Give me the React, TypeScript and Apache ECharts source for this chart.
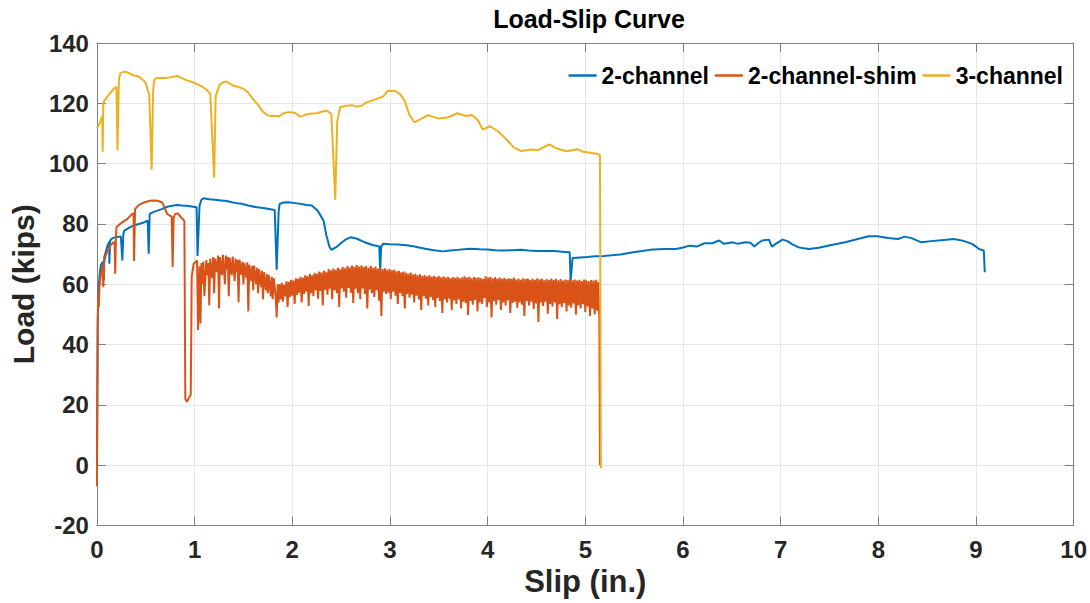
import React, { useEffect, useRef } from "react";
import * as echarts from "echarts";

const chartTitle = "Load-Slip Curve";
const xAxisName = "Slip (in.)";
const yAxisName = "Load (kips)";
const seriesNames = ["2-channel", "2-channel-shim", "3-channel"];
const seriesColors = ["#0072BD", "#D95319", "#EDB120"];

const xMin = 0, xMax = 10, xStep = 1;
const yMin = -20, yMax = 140, yStep = 20;

// 2-channel
const twoChannel: number[][] = [
  [0, 0], [0.004, 25], [0.008, 45], [0.012, 55], [0.02, 60], [0.03, 64], [0.04, 66.3], [0.06, 67.5], [0.07, 61.3], [0.075, 69],
  [0.09, 70.7], [0.11, 73], [0.125, 74], [0.127, 66.8], [0.135, 74.5], [0.16, 75.3], [0.19, 75.6], [0.245, 75.8], [0.26, 67.9], [0.27, 76.5],
  [0.28, 77.8], [0.33, 78.8], [0.38, 79.5], [0.43, 80], [0.48, 80.5], [0.52, 81.1], [0.53, 70.1], [0.54, 83.3], [0.58, 84], [0.62, 84.4],
  [0.67, 85], [0.72, 85.7], [0.77, 86], [0.82, 86.3], [0.87, 86.1], [0.92, 86], [0.97, 85.8], [1.02, 85.5], [1.03, 69.4], [1.05, 86],
  [1.07, 88], [1.09, 88.5], [1.15, 88.2], [1.21, 88], [1.27, 87.8], [1.33, 87.6], [1.38, 87.2], [1.43, 86.9], [1.47, 86.8], [1.55, 86.1],
  [1.64, 85.5], [1.72, 85.2], [1.82, 84.6], [1.84, 64.8], [1.86, 84], [1.87, 86.6], [1.91, 87.1], [1.96, 87.2], [2.03, 86.9], [2.09, 86.6],
  [2.15, 86.3], [2.2, 86.1], [2.26, 84.4], [2.32, 81.1], [2.35, 76.1], [2.38, 72.5], [2.4, 71.4], [2.45, 72.3], [2.5, 73.7], [2.54, 74.7],
  [2.6, 75.6], [2.67, 75], [2.72, 74.2], [2.77, 73.6], [2.82, 73], [2.87, 72.7], [2.89, 72.6], [2.9, 64.5], [2.91, 72.5], [2.93, 73.4],
  [3.0, 73.3], [3.08, 73.2], [3.17, 72.9], [3.25, 72.5], [3.36, 71.8], [3.45, 71.3], [3.54, 70.9], [3.62, 71.2], [3.69, 71.4], [3.76, 71.6],
  [3.83, 71.8], [3.92, 71.6], [4.0, 71.5], [4.08, 71.3], [4.17, 71.2], [4.25, 71.3], [4.34, 71.4], [4.42, 71.2], [4.51, 71], [4.6, 71],
  [4.68, 71], [4.76, 70.8], [4.84, 70.6], [4.85, 61.3], [4.87, 68.7], [4.95, 68.9], [5.02, 69], [5.1, 69.3], [5.19, 69.4], [5.27, 69.6],
  [5.36, 69.9], [5.49, 70.6], [5.58, 71], [5.66, 71.4], [5.75, 71.6], [5.83, 71.7], [5.93, 71.7], [6.0, 72.2], [6.07, 72.8], [6.14, 72.5],
  [6.22, 73.6], [6.3, 73.6], [6.37, 74.5], [6.42, 73.4], [6.51, 73.9], [6.56, 73.4], [6.64, 73.9], [6.69, 73.8], [6.73, 72.5], [6.77, 73.6],
  [6.81, 74.5], [6.88, 74.8], [6.91, 72.5], [6.95, 73.4], [7.02, 74.8], [7.07, 74.3], [7.12, 73.2], [7.18, 72.3], [7.24, 71.9], [7.29, 71.7],
  [7.39, 72.1], [7.52, 73], [7.66, 73.9], [7.79, 75], [7.9, 75.9], [7.99, 75.9], [8.1, 75.3], [8.2, 75], [8.27, 75.8], [8.34, 75.3],
  [8.44, 73.9], [8.54, 74.3], [8.67, 74.7], [8.77, 75], [8.83, 74.7], [8.88, 74.3], [8.96, 73.4], [9.0, 72.5], [9.03, 71.7], [9.08, 71.2],
  [9.09, 64],
];

// 2-channel-shim
const twoChannelShim: number[][] = [
  [0, -7], [0.004, 20], [0.008, 48], [0.012, 54], [0.016, 57], [0.02, 52.5], [0.026, 59.5], [0.04, 63], [0.058, 66.3], [0.065, 59],
  [0.075, 67.5], [0.09, 69.6], [0.115, 71.5], [0.14, 72.9], [0.165, 73.8], [0.18, 74], [0.187, 63.5], [0.195, 76], [0.2, 78.9], [0.245, 80.2],
  [0.28, 81], [0.31, 81.6], [0.36, 83.3], [0.375, 83.5], [0.38, 67.7], [0.39, 84.9], [0.43, 86.3], [0.48, 87.1], [0.54, 87.7], [0.58, 87.8],
  [0.62, 87.7], [0.67, 87.1], [0.69, 85.5], [0.72, 83.3], [0.75, 82.7], [0.765, 82.5], [0.775, 65.7], [0.785, 82], [0.8, 83.3], [0.83, 83.5],
  [0.86, 82.2], [0.88, 81.6], [0.895, 81], [0.905, 22], [0.92, 21], [0.94, 22.2], [0.96, 23.3], [0.965, 40], [0.97, 62.4], [0.99, 66.8],
  [1.025, 67.9], [1.035, 44.8],
  [1.05, 66], [1.06, 47], [1.07, 67], [1.08, 60], [1.09, 67.5], [1.10, 56], [1.12, 68], [1.13, 63], [1.14, 67], [1.15, 53],
  [1.16, 68.5], [1.18, 62], [1.19, 69], [1.2, 57], [1.21, 68.5], [1.23, 64], [1.24, 69.5], [1.25, 52], [1.26, 69], [1.28, 63],
  [1.29, 69.8], [1.31, 60], [1.32, 69.5], [1.33, 65], [1.34, 69], [1.35, 56], [1.36, 68.8], [1.38, 63], [1.39, 69.2], [1.41, 61],
  [1.42, 68.5], [1.43, 64], [1.44, 68], [1.45, 54], [1.46, 68.2], [1.48, 63], [1.49, 67.5], [1.5, 60], [1.51, 67], [1.53, 62],
  [1.54, 67.3], [1.55, 51], [1.56, 66.5], [1.58, 61], [1.59, 66], [1.6, 58], [1.61, 66.2], [1.63, 60], [1.64, 65.5], [1.65, 57],
  [1.66, 65], [1.68, 59], [1.69, 64.5], [1.7, 55], [1.71, 64], [1.73, 58], [1.74, 63.5], [1.75, 57], [1.76, 63], [1.78, 56],
  [1.79, 62.5], [1.8, 55], [1.81, 62], [1.83, 56], [1.84, 49], [1.85, 60], [1.86, 54],
  [1.868, 60.0], [1.880, 55.0], [1.892, 60.5], [1.904, 54.2], [1.916, 59.8], [1.928, 56.0], [1.940, 61.0], [1.952, 52.5], [1.964, 60.8], [1.976, 55.8],
  [1.988, 61.5], [2.000, 56.2], [2.012, 61.2], [2.024, 53.5], [2.036, 62.0], [2.048, 56.5], [2.060, 61.8], [2.072, 57.2], [2.084, 62.5], [2.096, 54.0],
  [2.108, 62.2], [2.120, 56.8], [2.132, 63.0], [2.144, 57.5], [2.156, 62.6], [2.168, 52.8], [2.180, 63.4], [2.192, 57.0], [2.204, 63.0], [2.216, 56.0],
  [2.228, 63.8], [2.240, 58.0], [2.252, 63.5], [2.264, 55.2], [2.276, 64.2], [2.288, 57.8], [2.300, 63.9], [2.312, 53.0], [2.324, 64.5], [2.336, 58.2],
  [2.348, 64.0], [2.360, 56.5], [2.372, 65.0], [2.384, 58.5], [2.396, 64.6], [2.408, 55.0], [2.420, 65.2], [2.432, 58.0], [2.444, 64.8], [2.456, 57.0],
  [2.468, 65.5], [2.480, 52.5], [2.492, 65.0], [2.504, 58.6], [2.516, 65.8], [2.528, 57.5], [2.540, 65.3], [2.552, 55.5], [2.564, 66.0], [2.576, 58.8],
  [2.588, 65.6], [2.600, 57.2], [2.612, 66.2], [2.624, 53.8], [2.636, 65.8], [2.648, 58.5], [2.660, 66.4], [2.672, 57.0], [2.684, 65.9], [2.696, 55.0],
  [2.708, 66.3], [2.720, 58.6], [2.732, 65.7], [2.744, 56.8], [2.756, 66.0], [2.768, 52.0], [2.780, 65.5], [2.792, 58.2], [2.804, 66.1], [2.816, 57.0],
  [2.828, 65.4], [2.840, 55.8], [2.852, 65.9], [2.864, 58.0], [2.876, 65.2], [2.888, 54.5], [2.900, 65.6], [2.912, 49.5], [2.924, 65.0], [2.936, 57.5],
  [2.948, 65.3], [2.960, 56.8],
  [2.972, 64.8], [2.984, 57.2], [2.996, 65.0], [3.008, 55.0], [3.020, 64.6], [3.032, 57.5], [3.044, 64.9], [3.056, 56.2], [3.068, 64.3], [3.080, 53.5],
  [3.092, 64.5], [3.104, 57.0], [3.116, 64.0], [3.128, 56.0], [3.140, 64.2], [3.152, 52.0], [3.164, 63.8], [3.176, 56.8], [3.188, 63.5], [3.200, 55.5],
  [3.212, 63.9], [3.224, 56.5], [3.236, 63.2], [3.248, 54.0], [3.260, 63.5], [3.272, 56.2], [3.284, 63.0], [3.296, 55.0], [3.308, 63.3], [3.320, 51.5],
  [3.332, 62.8], [3.344, 56.0], [3.356, 63.0], [3.368, 55.2], [3.380, 62.6], [3.392, 53.0], [3.404, 63.0], [3.416, 55.8], [3.428, 62.5], [3.440, 54.8],
  [3.452, 62.8], [3.464, 52.5], [3.476, 62.4], [3.488, 55.5], [3.500, 62.7], [3.512, 54.5], [3.524, 62.3], [3.536, 50.5], [3.548, 62.6], [3.560, 55.0],
  [3.572, 62.2], [3.584, 54.0], [3.596, 62.5], [3.608, 55.2], [3.620, 62.0], [3.632, 51.5], [3.644, 62.4], [3.656, 54.6], [3.668, 62.1], [3.680, 53.5],
  [3.692, 62.5], [3.704, 55.0], [3.716, 62.0], [3.728, 52.0], [3.740, 62.3], [3.752, 54.2], [3.764, 62.6], [3.776, 53.8], [3.788, 62.2], [3.800, 49.8],
  [3.812, 62.5], [3.824, 54.5], [3.836, 62.0], [3.848, 53.2], [3.860, 62.4], [3.872, 54.8], [3.884, 62.1], [3.896, 51.0], [3.908, 62.3], [3.920, 54.0],
  [3.932, 62.0], [3.944, 53.5], [3.956, 61.8], [3.968, 55.5], [3.980, 62.6], [3.992, 52.5], [4.004, 62.2], [4.016, 54.0], [4.028, 62.5], [4.040, 49.0],
  [4.052, 62.0], [4.064, 54.5], [4.076, 62.3], [4.088, 53.2], [4.100, 61.9], [4.112, 54.8], [4.124, 62.2], [4.136, 51.5], [4.148, 61.8], [4.160, 54.0],
  [4.172, 62.1], [4.184, 53.0], [4.196, 61.7], [4.208, 54.6], [4.220, 62.0], [4.232, 50.5], [4.244, 61.8], [4.256, 53.8], [4.268, 62.2], [4.280, 54.2],
  [4.292, 61.6], [4.304, 52.2], [4.316, 61.9], [4.328, 54.0], [4.340, 61.5], [4.352, 53.2], [4.364, 62.0], [4.376, 49.5], [4.388, 61.7], [4.400, 54.5],
  [4.412, 61.9], [4.424, 53.0], [4.436, 61.4], [4.448, 54.2], [4.460, 61.8], [4.472, 51.8], [4.484, 61.5], [4.496, 53.6], [4.508, 62.0], [4.520, 47.5],
  [4.532, 61.6], [4.544, 54.0], [4.556, 61.8], [4.568, 52.8], [4.580, 61.3], [4.592, 54.2], [4.604, 61.7], [4.616, 50.2], [4.628, 61.4], [4.640, 53.5],
  [4.652, 61.9], [4.664, 52.6], [4.676, 61.5], [4.688, 54.0], [4.700, 61.8], [4.712, 48.5], [4.724, 61.3], [4.736, 53.4], [4.748, 61.7], [4.760, 52.5],
  [4.772, 61.2], [4.784, 53.8], [4.796, 61.6], [4.808, 51.0], [4.820, 61.4], [4.832, 53.0], [4.844, 61.8], [4.856, 52.2], [4.868, 61.3], [4.880, 53.6],
  [4.892, 61.6], [4.904, 50.0], [4.916, 61.2], [4.928, 53.0], [4.940, 61.5], [4.952, 52.0], [4.964, 61.1], [4.976, 53.4], [4.988, 61.6], [5.000, 50.8],
  [5.012, 61.3], [5.024, 52.6], [5.036, 61.0], [5.048, 49.5], [5.060, 61.4], [5.072, 52.0], [5.084, 61.2], [5.096, 50.0], [5.108, 61.5], [5.120, 51.2],
  [5.132, 60.8], [5.144, 47.8], [5.15, 0],
];

// 3-channel
const threeChannel: number[][] = [
  [0, 111.7], [0.03, 113.5], [0.055, 115.6], [0.058, 103.9], [0.065, 119.5], [0.07, 120.5], [0.1, 122], [0.15, 124], [0.19, 125.3], [0.2, 125.3],
  [0.21, 104.4], [0.225, 128], [0.24, 130], [0.28, 130.5], [0.3, 130.4], [0.34, 129.8], [0.38, 129.2], [0.42, 129], [0.45, 128.3], [0.48, 127.5],
  [0.5, 126.7], [0.52, 124.4], [0.535, 123], [0.56, 98], [0.575, 124], [0.585, 127.5], [0.6, 128.3], [0.65, 128.4], [0.7, 128.4], [0.75, 128.6],
  [0.8, 128.9], [0.82, 129.1], [0.86, 128.5], [0.92, 127.6], [0.98, 127], [1.03, 126.3], [1.08, 125.5], [1.12, 124.5], [1.16, 123.3], [1.2, 95.3],
  [1.215, 122], [1.23, 123.9], [1.26, 126.3], [1.3, 127.1], [1.33, 127.2], [1.36, 126.5], [1.4, 125.8], [1.45, 125.4], [1.5, 124.8], [1.55, 123.5],
  [1.6, 121.3], [1.65, 119.5], [1.7, 117.2], [1.75, 116], [1.79, 115.8], [1.83, 115.8], [1.86, 115.6], [1.91, 116.7], [1.95, 117], [1.99, 117],
  [2.03, 116.8], [2.08, 115.6], [2.12, 116], [2.15, 116.4], [2.2, 116.6], [2.25, 116.7], [2.3, 117.2], [2.35, 117.6], [2.38, 117], [2.4, 116.4],
  [2.44, 88], [2.46, 114], [2.49, 118.7], [2.55, 119.2], [2.61, 119.4], [2.66, 118.9], [2.71, 119.2], [2.76, 120.3], [2.85, 121.3], [2.93, 122.2],
  [2.98, 124.2], [3.05, 124.1], [3.1, 123.1], [3.15, 120.9], [3.2, 116.1], [3.25, 113.7], [3.31, 114.7], [3.39, 116.1], [3.49, 115], [3.59, 115.3],
  [3.69, 116.7], [3.78, 115.8], [3.84, 116.1], [3.9, 114.4], [3.95, 111.3], [4.02, 112.4], [4.1, 110.9], [4.2, 107.8], [4.27, 105.3], [4.34, 104.2],
  [4.46, 104.7], [4.51, 104.4], [4.63, 106.4], [4.71, 105], [4.81, 104.1], [4.92, 104.8], [4.98, 103.9], [5.12, 103.3], [5.15, 102.8], [5.16, -1],
];

const seriesData = [twoChannel, twoChannelShim, threeChannel];
const lineWidths = [2, 2, 2];

const FONT = "'Liberation Sans', Arial, Helvetica, sans-serif";
const AXIS_COLOR = "#7f7f7f";
const TEXT_COLOR = "#262626";

export default function App() {
  const ref = useRef<HTMLDivElement>(null);
  useEffect(() => {
    if (!ref.current) return;
    const chart = echarts.init(ref.current, undefined, { renderer: "svg" });
    const axisCommon = {
      axisLine: { show: true, onZero: false, lineStyle: { color: AXIS_COLOR, width: 1 } },
      axisTick: { show: true, inside: true, length: 9, lineStyle: { color: AXIS_COLOR } },
    };
    chart.setOption({
      animation: false,
      backgroundColor: "#ffffff",
      title: {
        text: chartTitle,
        left: 584,
        top: 1,
        textAlign: "center",
        textStyle: { fontFamily: FONT, fontSize: 25, fontWeight: "bold", color: "#000" },
      },
      legend: {
        data: seriesNames,
        right: 22,
        top: 59,
        icon: "rect",
        itemWidth: 28,
        itemHeight: 2.5,
        itemGap: 6,
        textStyle: { fontFamily: FONT, fontSize: 23, fontWeight: "bold", color: "#000" },
      },
      grid: { left: 93, right: 13, top: 43, bottom: 77.5, containLabel: false },
      xAxis: [
        {
          type: "value",
          min: xMin,
          max: xMax,
          interval: xStep,
          position: "bottom",
          ...axisCommon,
          splitLine: { show: true, lineStyle: { color: "#e6e6e6", width: 1 } },
          axisLabel: { margin: 12, fontFamily: FONT, fontSize: 24, fontWeight: "bold", color: TEXT_COLOR },
          name: xAxisName,
          nameLocation: "middle",
          nameGap: 36,
          nameTextStyle: { fontFamily: FONT, fontSize: 31, fontWeight: "bold", color: TEXT_COLOR },
        },
        {
          type: "value",
          min: xMin,
          max: xMax,
          interval: xStep,
          position: "top",
          ...axisCommon,
          splitLine: { show: false },
          axisLabel: { show: false },
        },
      ],
      yAxis: [
        {
          type: "value",
          min: yMin,
          max: yMax,
          interval: yStep,
          position: "left",
          ...axisCommon,
          splitLine: { show: true, lineStyle: { color: "#e6e6e6", width: 1 } },
          axisLabel: { margin: 8, fontFamily: FONT, fontSize: 24, fontWeight: "bold", color: TEXT_COLOR },
          name: yAxisName,
          nameLocation: "middle",
          nameGap: 50,
          nameTextStyle: { fontFamily: FONT, fontSize: 30, fontWeight: "bold", color: TEXT_COLOR },
        },
        {
          type: "value",
          min: yMin,
          max: yMax,
          interval: yStep,
          position: "right",
          ...axisCommon,
          splitLine: { show: false },
          axisLabel: { show: false },
        },
      ],
      series: seriesNames.map((name, i) => ({
        name,
        type: "line",
        data: seriesData[i],
        xAxisIndex: 0,
        yAxisIndex: 0,
        showSymbol: false,
        symbol: "none",
        color: seriesColors[i],
        lineStyle: { color: seriesColors[i], width: lineWidths[i] },
        z: 2 + i,
      })),
    });
    return () => chart.dispose();
  }, []);
  return (
    <div
      ref={ref}
      style={{ position: "fixed", left: 0, top: 0, width: 1090, height: 603, background: "#fff" }}
    />
  );
}
